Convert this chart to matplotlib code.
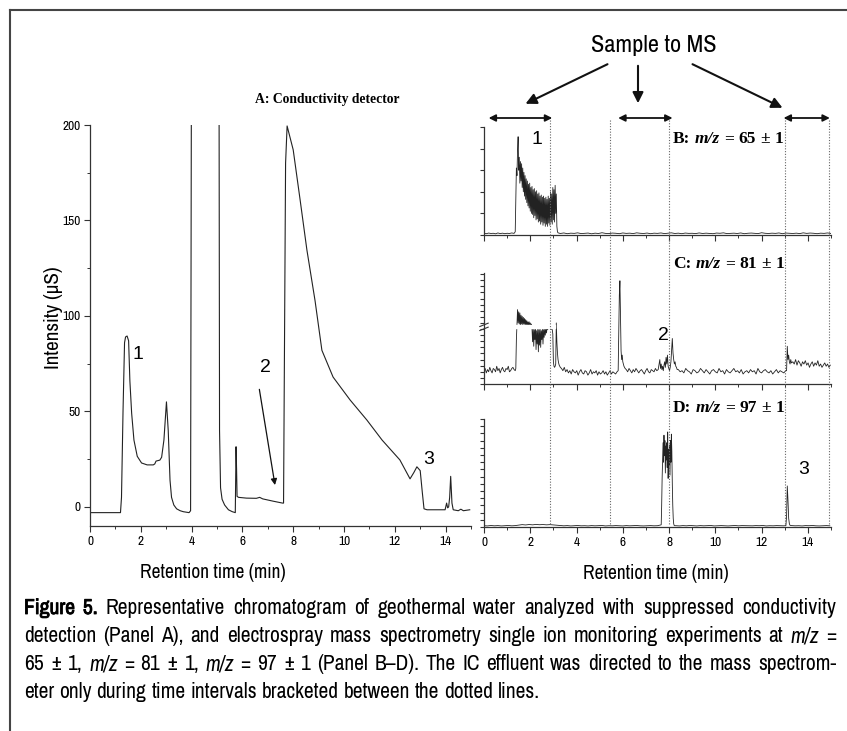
import matplotlib
matplotlib.use('Agg')
import matplotlib.pyplot as plt
import matplotlib.patheffects as pe
import numpy as np
from matplotlib import font_manager
from matplotlib.lines import Line2D
from matplotlib.ticker import MultipleLocator
from matplotlib.transforms import blended_transform_factory

# ---- panel A: conductivity trace (min, uS) ----
a_time = [0.0, 1.20, 1.24, 1.30, 1.36, 1.40, 1.46, 1.52, 1.57, 1.64, 1.73, 1.86, 2.03, 2.25,
          2.49, 2.55, 2.60, 2.75, 2.82, 2.91, 3.01, 3.08, 3.15, 3.21, 3.30, 3.41, 3.55, 3.67,
          3.90, 3.96, 4.02, 5.06, 5.10, 5.14, 5.20, 5.30, 5.45, 5.60, 5.72, 5.75, 5.77, 5.79,
          5.85, 6.16, 6.55, 6.68, 6.80, 7.21, 7.58, 7.62, 7.70, 7.76, 8.00, 8.27, 8.54, 8.86,
          9.13, 9.57, 10.24, 10.90, 11.50, 12.20, 12.60, 12.75, 12.87, 13.00, 13.08, 13.15,
          13.27, 13.60, 13.98, 14.04, 14.08, 14.12, 14.16, 14.20, 14.25, 14.30, 14.50, 14.60,
          14.70, 14.95]
a_signal = [-3, -3, 5, 50, 86, 89, 89.5, 87, 66, 49, 35, 26.5, 23, 22,
            22, 22.5, 24, 24.5, 26, 35, 55, 40, 14, 5, 1, -1, -2, -2.5,
            -3, -2, 420, 420, 40, 10, 4, 1, -1.5, -2.5, -3, 31.5, 20, 5.5,
            5, 4.6, 4.5, 5, 4.2, 3, 2, 2, 180, 199.5, 187, 161, 134.5, 108,
            82, 68, 56, 45.5, 35, 24.6, 14.7, 18, 21, 19, 8, -1,
            -1.5, -1.5, -1.5, 2, -0.5, 0, 5, 16, 2, -1.5, -2, -1.2,
            -2, -1.5]

# ---- panels B-D: SIM traces, pieces sampled at (start, step) ----
b_pieces = [
    (0.0, 0.1, [1.5, 1.2, 1.8, 1.4, 1.6, 1.1, 1.9, 1.3, 1.7, 1.2, 1.6, 1.4, 1.9, 1.5]),
    (1.35, 0.025, [3, 30, 62, 55, 78, 91, 60, 72, 48, 68, 50, 66, 44, 62, 40, 58, 36, 55, 33,
                   52, 30, 50, 27, 47, 25, 48, 22, 44, 20, 45, 19, 42, 16, 43, 18, 40, 14, 41,
                   15, 38, 12, 39, 13, 36, 10, 37, 12, 35, 9, 36, 11, 34, 8, 35, 10, 33, 8, 36,
                   11, 34, 9, 40, 12, 38, 10, 44, 14, 42, 12, 46, 20, 38, 8, 3, 2]),
    (3.3, 0.15, [1.4, 1.9, 1.2, 1.7, 1.5, 2.0, 1.3, 1.6, 1.8, 1.1, 1.7, 1.4, 2.1, 1.5, 1.3,
                 1.8, 1.6, 1.2, 1.9, 1.5, 1.7, 1.3, 2.0, 1.6, 1.4, 1.8, 1.2, 1.7, 1.5, 1.9,
                 1.3, 1.6, 2.0, 1.4, 1.7, 1.2, 1.8, 1.5, 1.6, 1.3, 1.9, 1.4, 1.7, 1.5, 1.2,
                 1.8, 1.6, 2.0, 1.3, 1.5, 1.7, 1.4, 1.9, 1.2, 1.6, 1.8, 1.5, 1.3, 2.1, 1.6,
                 1.4, 1.7, 1.5, 1.9, 1.2, 1.8, 1.6, 1.4, 1.7, 1.3, 2.0, 1.5, 1.8, 1.6, 1.2,
                 1.7, 1.5, 1.9, 1.4]),
]
c_pieces = [
    (0.0, 0.05, [12, 14, 10, 13, 11, 15, 12, 10, 14, 13, 11, 16, 12, 14, 10, 13, 15, 12, 11,
                 14, 13, 16, 11, 12, 14, 15, 13, 12]),
    (1.375, 0.025, [14, 40, 53, 67, 55, 65, 54, 64, 53, 62, 54, 61, 53, 60, 54, 59, 53, 58, 53,
                    57, 53, 56, 53, 56, 53, 55, 53, 54,
                    50, 38, 50, 34, 49, 40, 50, 31, 48, 36, 50, 29, 49, 35, 50, 33, 48, 40, 50,
                    36, 49, 42, 50, 44, 50, 46, 50, 49, 50, 50, 50, 50, 50, 49, 50, 49, 45, 20,
                    16, 15, 16, 18, 55, 38, 28, 22, 19, 17, 16, 15]),
    (3.35, 0.06, [14, 12, 15, 11, 13, 10, 12, 9, 13, 11, 10, 12, 8, 11, 13, 10, 9, 12, 11, 8,
                  10, 13, 9, 11, 10, 12, 8, 11, 9, 10, 12, 9, 11, 8, 10, 12, 9, 11, 10, 9, 11]),
    (5.8, 0.025, [12, 45, 80, 93, 60, 30, 22, 26, 20, 18, 16, 15, 14]),
    (6.15, 0.06, [13, 11, 14, 12, 10, 13, 11, 14, 12, 10, 12, 13, 11, 9, 12, 14, 11, 10, 13,
                  12, 11, 14, 12, 13]),
    (7.6, 0.03, [22, 14, 18, 13, 16, 12, 17, 20, 15, 24, 18, 26, 16, 14, 12, 15, 20, 30, 41,
                 28, 22, 18, 20, 16, 15, 13]),
    (8.4, 0.08, [13, 11, 12, 10, 14, 12, 11, 9, 13, 12, 10, 11, 14, 12, 10, 13, 11, 9, 12, 13,
                 11, 10, 14, 11, 12, 9, 13, 11, 10, 12, 14, 11, 12, 10, 13, 9, 11, 12, 10, 13,
                 11, 12, 9, 14, 11, 10, 12, 13, 11, 10, 12, 9, 11, 13, 10, 12, 11, 10, 12]),
    (13.08, 0.03, [12, 34, 22, 26, 20, 18, 22, 19]),
    (13.35, 0.06, [20, 18, 22, 17, 21, 19, 16, 20, 18, 21, 17, 19, 15, 18, 20, 16, 19, 17, 21,
                   16, 18, 15, 17, 19, 16, 18, 15, 17]),
]
d_pieces = [
    (0.0, 0.15, [1.2, 1.0, 1.4, 1.1, 1.3, 1.0, 1.2, 1.4, 1.1, 1.3]),
    (1.5, 0.15, [1.8, 2.2, 1.9, 2.3, 2.0, 2.4, 2.1, 2.3, 2.0, 2.2, 1.9, 1.6, 1.3]),
    (3.45, 0.15, [1.1, 1.3, 1.0, 1.2, 1.4, 1.1, 1.2, 1.0, 1.3, 1.1, 1.2, 1.4, 1.0, 1.2, 1.1,
                  1.3, 1.2, 1.0, 1.3, 1.1, 1.2, 1.4, 1.1, 1.0, 1.2, 1.3, 1.1, 1.2]),
    (7.66, 0.02, [2, 20, 45, 62, 78, 60, 85, 66, 80, 50, 75, 62, 78, 55, 88, 45, 72, 58, 76,
                  48, 80, 60, 86, 70, 40, 20, 8, 3, 1.5, 1.2]),
    (8.3, 0.15, [1.2, 1.0, 1.3, 1.1, 1.4, 1.2, 1.0, 1.3, 1.1, 1.2, 1.4, 1.0, 1.2, 1.3, 1.1,
                 1.0, 1.2, 1.4, 1.1, 1.3, 1.2, 1.0, 1.1, 1.3, 1.2, 1.4, 1.0, 1.2, 1.1, 1.3,
                 1.2, 1.1]),
    (13.05, 0.03, [1.2, 10, 38, 25, 8, 3, 1.5]),
    (13.3, 0.15, [1.3, 1.1, 1.2, 1.0, 1.3, 1.2, 1.4, 1.1, 1.0, 1.2, 1.3, 1.1]),
]
c_break = 51.5

# MS windows (min): dotted limits and the double arrows above them
window_lines = [2.85, 5.45, 8.0, 13.0, 14.9]
window_arrows = [(0.2, 2.95), (5.8, 8.15), (12.95, 14.95)]

panel_labels = ['B:', 'C:', 'D:']
panel_mz = ['= 65 ± 1', '= 81 ± 1', '= 97 ± 1']

caption = [
    "Figure 5. Representative chromatogram of geothermal water analyzed with suppressed conductivity",
    "detection (Panel A), and electrospray mass spectrometry single ion monitoring experiments at m/z =",
    "65 ± 1, m/z = 81 ± 1, m/z = 97 ± 1 (Panel B–D). The IC effluent was directed to the mass spectrom-",
    "eter only during time intervals bracketed between the dotted lines.",
]

# a narrow sans like the original if one is installed, else Liberation Sans
ttf = font_manager.fontManager.ttflist
installed = {f.name for f in ttf}
NARROW = next((n for n in ('Archivo Narrow', 'Liberation Sans Narrow', 'Roboto Condensed',
                           'Barlow Semi Condensed') if n in installed), 'Liberation Sans')
FAM = [NARROW, 'Liberation Sans', 'DejaVu Sans']
plt.rcParams['font.family'] = FAM


def wnum(w):
    return font_manager.weight_dict.get(w, 400) if isinstance(w, str) else w


HAS_BOLD = max([wnum(f.weight) for f in ttf if f.name == NARROW] + [0]) >= 600

W, H = 847, 731
fig = plt.figure(figsize=(W / 100, H / 100), dpi=100)
renderer = fig.canvas.get_renderer()


def fx(x):
    return x / W


def fy(y):
    return 1 - y / H


def box(l, t, r, b):
    return [l / W, 1 - b / H, (r - l) / W, (b - t) / H]


def width(text, **kw):
    t = fig.text(0, 0, text, **kw)
    w = t.get_window_extent(renderer).width
    t.remove()
    return w


def fit(text, target, **kw):
    # font size that gives the text the width it has in the original
    return 10 * target / width(text, fontsize=10, **kw)


def join(pieces):
    t = np.concatenate([t0 + dt * np.arange(len(v)) for t0, dt, v in pieces])
    y = np.concatenate([np.asarray(v, float) for _, _, v in pieces])
    return t, y


TICK = fit('200', 18)


def style(ax):
    for s in ('top', 'right'):
        ax.spines[s].set_visible(False)
    for s in ('left', 'bottom'):
        ax.spines[s].set_linewidth(0.9)
        ax.spines[s].set_color('#333333')
    ax.tick_params(which='major', direction='out', length=4, width=0.8, color='#333333',
                   labelsize=TICK, pad=3)
    ax.tick_params(which='minor', direction='out', length=2.5, width=0.7, color='#333333')
    ax.set_facecolor('none')


# frame
fig.add_artist(Line2D([fx(10), 1], [fy(10), fy(10)], color='#444444', lw=1.5))
fig.add_artist(Line2D([fx(10), fx(10)], [fy(10), 0], color='#444444', lw=1.5))

XLAB = fit('Retention time (min)', 147)

# ---- panel A ----
axA = fig.add_axes(box(90, 125, 471, 526))
style(axA)
axA.plot(a_time, a_signal, color='#222222', lw=0.8)
axA.set_xlim(0, 15)
axA.set_ylim(-10, 200)
axA.xaxis.set_major_locator(MultipleLocator(2))
axA.xaxis.set_minor_locator(MultipleLocator(1))
axA.yaxis.set_major_locator(MultipleLocator(50))
axA.yaxis.set_minor_locator(MultipleLocator(25))
axA.set_yticks([0, 50, 100, 150, 200])
axA.set_xlabel('Retention time (min)', fontsize=XLAB, va='center')
axA.xaxis.set_label_coords(0.323, -0.117)
axA.set_ylabel('Intensity (μS)', fontsize=fit('Intensity (μS)', 103), va='center')
axA.yaxis.set_label_coords(-0.095, 0.52)
fig.text(fx(327), fy(100), 'A: Conductivity detector', fontsize=9.8, weight='bold',
         family='Liberation Serif', ha='center', va='center')
for x, y, s in ((1.9, 80, '1'), (6.9, 73, '2'), (13.35, 25, '3')):
    axA.text(x, y, s, fontsize=14, family='Liberation Sans', ha='center', va='center')
axA.annotate('', xy=(7.3, 10), xytext=(6.65, 63),
             arrowprops=dict(arrowstyle='-|>', lw=0.9, color='#111111', mutation_scale=9))

# ---- panels B-D ----
axB = fig.add_axes(box(484, 127, 831, 235))
axC = fig.add_axes(box(484, 273, 831, 384))
axD = fig.add_axes(box(484, 419, 831, 527))
for ax, pieces, step in ((axB, b_pieces, 20), (axC, c_pieces, 5.5), (axD, d_pieces, 100 / 15)):
    style(ax)
    t, y = join(pieces)
    ax.plot(t, y, color='#222222', lw=0.6)
    ax.set_xlim(0, 15)
    ax.set_ylim(0, 100)
    ax.xaxis.set_major_locator(MultipleLocator(2))
    ax.xaxis.set_minor_locator(MultipleLocator(1))
    ax.yaxis.set_major_locator(MultipleLocator(step))
    ax.tick_params(axis='y', which='major', length=3, labelleft=False)
for ax in (axB, axC):
    ax.tick_params(axis='x', labelbottom=False)
axD.set_xlabel('Retention time (min)', fontsize=XLAB, va='center')
axD.xaxis.set_label_coords(0.496, -0.426)

# axis break in panel C
axC.fill_between([1.3, 3.05], c_break - 1.3, c_break + 1.3, color='white', zorder=3)
for dy in (-1.8, 1.8):
    axC.plot([-0.012, 0.012], [c_break + dy - 1.5, c_break + dy + 1.5], color='#333333',
             lw=0.8, transform=blended_transform_factory(axC.transAxes, axC.transData),
             clip_on=False)

for ax, x, y, s in ((axB, 2.3, 88, '1'), (axC, 7.75, 44, '2'), (axD, 13.8, 53, '3')):
    ax.text(x, y, s, fontsize=14, family='Liberation Sans', ha='center', va='center')

# dotted window limits through all three panels
tr = blended_transform_factory(axD.transData, fig.transFigure)
for x in window_lines:
    fig.add_artist(Line2D([x, x], [fy(120), fy(524)], transform=tr, color='#666666',
                          lw=0.8, ls=(0, (1, 1.5))))
for x0, x1 in window_arrows:
    axB.annotate('', xy=(x0, fy(118)), xytext=(x1, fy(118)),
                 xycoords=('data', 'figure fraction'), textcoords=('data', 'figure fraction'),
                 arrowprops=dict(arrowstyle='<|-|>', lw=1.3, color='#111111',
                                 mutation_scale=10, shrinkA=0, shrinkB=0))

fig.text(fx(654), fy(45), 'Sample to MS', fontsize=fit('Sample to MS', 126),
         ha='center', va='center')
for (x0, y0), (x1, y1) in (((610, 63), (523, 105)), ((638, 63), (638, 106)),
                           ((690, 63), (785, 109))):
    fig.add_artist(matplotlib.patches.FancyArrowPatch(
        (fx(x0), fy(y0)), (fx(x1), fy(y1)), transform=fig.transFigure,
        arrowstyle='-|>', mutation_scale=16, lw=1.5, color='#111111'))


# ---- mixed-style text: panel labels and justified caption ----
def put_words(words, x0, y, size, family=None, x1=None):
    fam = family or FAM
    ws = [width(w, fontsize=size, weight=wt, style=st, family=fam) for w, wt, st in words]
    gap = width('a a', fontsize=size, family=fam) - width('aa', fontsize=size, family=fam)
    if x1 is not None and len(words) > 1:
        gap = (x1 - x0 - sum(ws)) / (len(words) - 1)
    x = x0
    for (w, wt, st), wd in zip(words, ws):
        t = fig.text(fx(x), fy(y), w, fontsize=size, weight=wt, style=st, family=fam,
                     va='baseline')
        if wt == 'bold' and family is None and not HAS_BOLD:
            # the narrow face has no bold cut: thicken the strokes instead
            t.set_path_effects([pe.withStroke(linewidth=0.6, foreground='black')])
        x += wd + gap


for lab, mz, base in zip(panel_labels, panel_mz, (143, 268, 412)):
    words = [(lab, 'bold', 'normal'), ('m/z', 'bold', 'italic')]
    words += [(p, 'bold', 'normal') for p in mz.split()]
    put_words(words, 673, base, 12.5, family=['Liberation Serif', 'DejaVu Serif'])

CAP = fit(caption[1], 790)
for i, line in enumerate(caption):
    words = []
    for w in line.split():
        wt = 'bold' if i == 0 and w in ('Figure', '5.') else 'normal'
        st = 'italic' if w == 'm/z' else 'normal'
        words.append((w, wt, st))
    put_words(words, 24, 614 + 28 * i, CAP, x1=836 if i < 3 else None)

fig.savefig('out.png', dpi=100)
